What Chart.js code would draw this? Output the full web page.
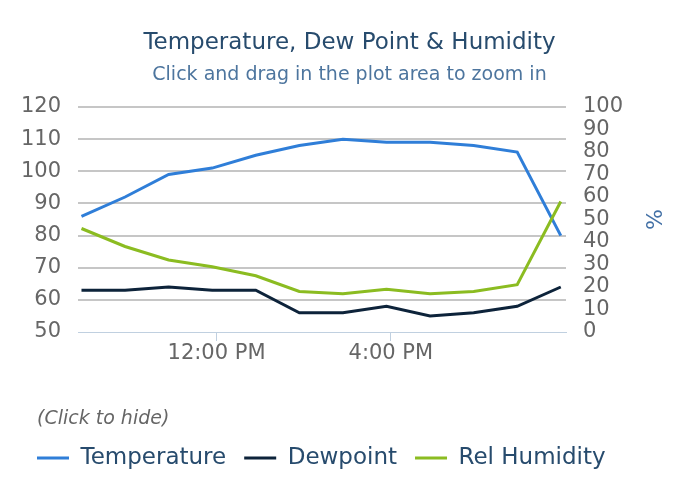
<!DOCTYPE html>
<html>
<head>
<meta charset="utf-8">
<script src="https://cdn.jsdelivr.net/npm/chart.js@4/dist/chart.umd.min.js"></script>
<style>
  html, body { margin: 0; padding: 0; background: #ffffff; }
  canvas { display: block; }
</style>
</head>
<body>
<canvas id="c" width="700" height="500"></canvas>
<script>
// Observation times (decimal hours, about hh:54 each hour, 8:54 AM .. 7:54 PM)
const times = [8.9, 9.9, 10.9, 11.9, 12.9, 13.9, 14.9, 15.9, 16.9, 17.9, 18.9, 19.9];
const temperature = [86, 92, 99, 101, 105, 108, 110, 109, 109, 108, 106, 80];
const dewpoint = [63, 63, 64, 63, 63, 56, 56, 58, 55, 56, 58, 64];
const humidity = [46, 38, 32, 29, 25, 18, 17, 19, 17, 18, 21, 58];
const xTickHours = [12, 16];
const xTickLabels = ['12:00 PM', '4:00 PM'];
const seriesNames = ['Temperature', 'Dewpoint', 'Rel Humidity'];

const FONT = "'DejaVu Sans', sans-serif";

const toPoints = (vals) => vals.map((v, i) => ({ x: times[i], y: v }));

// Draw the legend title aligned with the first legend item (two clipped passes).
const legendTitleShift = {
  id: 'legendTitleShift',
  afterUpdate(chart) {
    const lg = chart.legend;
    if (!lg || lg._shiftWrapped) return;
    const origDraw = lg.draw;
    lg.draw = function (...args) {
      const ctx = this.ctx;
      const shift = this.options.labels.padding;
      const split = this.top + 38;
      ctx.save();
      ctx.beginPath();
      ctx.rect(0, this.top, chart.width, split - this.top);
      ctx.clip();
      ctx.translate(shift, 0);
      origDraw.apply(this, args);
      ctx.restore();
      ctx.save();
      ctx.beginPath();
      ctx.rect(0, split, chart.width, chart.height - split);
      ctx.clip();
      origDraw.apply(this, args);
      ctx.restore();
    };
    lg._shiftWrapped = true;
  }
};

new Chart(document.getElementById('c'), {
  type: 'line',
  data: {
    datasets: [
      {
        label: seriesNames[0],
        data: toPoints(temperature),
        borderColor: '#2f7ed8',
        backgroundColor: '#2f7ed8',
        borderWidth: 3,
        pointRadius: 0,
        tension: 0,
        yAxisID: 'y',
        order: 2
      },
      {
        label: seriesNames[1],
        data: toPoints(dewpoint),
        borderColor: '#0d233a',
        backgroundColor: '#0d233a',
        borderWidth: 3,
        pointRadius: 0,
        tension: 0,
        yAxisID: 'y',
        order: 1
      },
      {
        label: seriesNames[2],
        data: toPoints(humidity),
        borderColor: '#8bbc21',
        backgroundColor: '#8bbc21',
        borderWidth: 3,
        pointRadius: 0,
        tension: 0,
        yAxisID: 'y1',
        order: 0
      }
    ]
  },
  options: {
    responsive: false,
    animation: false,
    devicePixelRatio: 1,
    layout: { padding: { left: 19, right: 20, top: 0, bottom: 20.5 } },
    scales: {
      x: {
        type: 'linear',
        min: 8.82,
        max: 20.02,
        afterBuildTicks: (scale) => { scale.ticks = xTickHours.map(v => ({ value: v })); },
        afterFit: (scale) => { scale.height = 67.5; },
        ticks: {
          autoSkip: false,
          maxRotation: 0,
          padding: 0,
          color: '#666666',
          font: { family: FONT, size: 21 },
          callback: (v) => { const i = xTickHours.indexOf(v); return i >= 0 ? xTickLabels[i] : ''; }
        },
        grid: { drawOnChartArea: false, drawTicks: true, tickLength: 9, color: '#c0d0e0', lineWidth: 1 },
        border: { display: true, color: '#c0d0e0', width: 1 }
      },
      y: {
        position: 'left',
        min: 50,
        max: 120,
        afterFit: (scale) => { scale.width = 59; },
        ticks: {
          stepSize: 10,
          autoSkip: false,
          padding: 17,
          color: '#666666',
          font: { family: FONT, size: 21 }
        },
        grid: {
          drawTicks: false,
          lineWidth: 2,
          color: (c) => (c.tick && c.tick.value === 50) ? 'rgba(0,0,0,0)' : '#c6c6c6'
        },
        border: { display: false }
      },
      y1: {
        position: 'right',
        min: 0,
        max: 100,
        afterFit: (scale) => { scale.width = 114; },
        ticks: {
          stepSize: 10,
          autoSkip: false,
          padding: 17,
          color: '#666666',
          font: { family: FONT, size: 21 }
        },
        grid: { display: false, drawOnChartArea: false, drawTicks: false },
        border: { display: false },
        title: {
          display: true,
          text: '%',
          color: '#4572a7',
          font: { family: FONT, size: 22 },
          padding: { top: 15, bottom: 0 }
        }
      }
    },
    plugins: {
      title: {
        display: true,
        text: 'Temperature, Dew Point & Humidity',
        color: '#274b6d',
        font: { family: FONT, size: 23, weight: 'normal', lineHeight: 1.2 },
        padding: { top: 29, bottom: 0 }
      },
      subtitle: {
        display: true,
        text: 'Click and drag in the plot area to zoom in',
        color: '#4d759e',
        font: { family: FONT, size: 19, weight: 'normal', lineHeight: 1.2 },
        padding: { top: 6.9, bottom: 20.7 }
      },
      legend: {
        display: true,
        position: 'bottom',
        align: 'start',
        title: {
          display: true,
          text: '(Click to hide)',
          position: 'start',
          color: '#666666',
          font: { family: FONT, size: 19, style: 'italic', lineHeight: 1 },
          padding: { top: 10, bottom: 0 }
        },
        labels: {
          color: '#274b6d',
          font: { family: FONT, size: 23 },
          usePointStyle: true,
          pointStyle: 'line',
          pointStyleWidth: 32,
          padding: 18,
          sort: (a, b) => a.datasetIndex - b.datasetIndex
        }
      },
      tooltip: { enabled: false }
    }
  },
  plugins: [legendTitleShift]
});
</script>
</body>
</html>
